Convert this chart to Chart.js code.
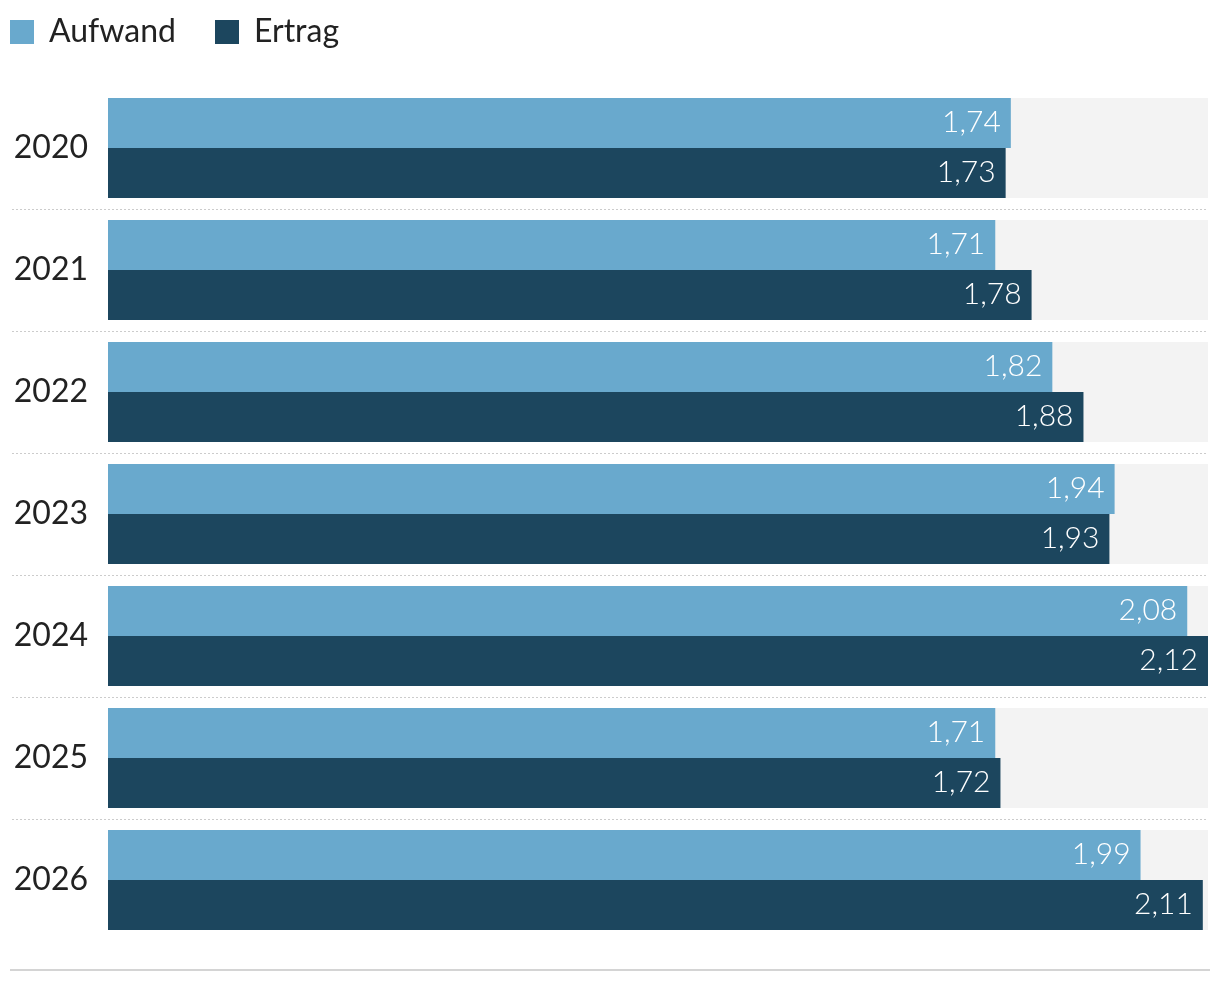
<!DOCTYPE html>
<html lang="de">
<head>
<meta charset="utf-8">
<title>Aufwand und Ertrag</title>
<script src="https://cdn.jsdelivr.net/npm/chart.js@4.4.1/dist/chart.umd.min.js"></script>
<style>
  html, body { margin: 0; padding: 0; background: #fff; }
  .wrap { position: relative; width: 1220px; height: 982px; color: #222; }
  .legend { position: absolute; top: 20px; left: 10px; display: flex; font-family: Lato, sans-serif; font-size: 32px; line-height: 24px; }
  .legend span.item { display: flex; margin-right: 39px; }
  .legend span.item b { font-weight: 400; position: relative; top: -2px; }
  .legend i { display: inline-block; width: 24px; height: 24px; margin-right: 15px; }
  canvas { position: absolute; left: 0; top: 0; }
</style>
</head>
<body>
<div class="wrap">
  <canvas id="chart" width="1220" height="982"></canvas>
  <div class="legend" id="legend"></div>
</div>
<script>
const years = ['2020', '2021', '2022', '2023', '2024', '2025', '2026'];
const aufwand = [1.74, 1.71, 1.82, 1.94, 2.08, 1.71, 1.99];
const ertrag = [1.73, 1.78, 1.88, 1.93, 2.12, 1.72, 2.11];
const xMax = 2.12;

const colors = { aufwand: '#69a9cd', ertrag: '#1c465e' };

// grey track behind each group + dotted lines between the groups
const backdrop = {
  id: 'backdrop',
  beforeDatasetsDraw(chart) {
    const { ctx, scales: { x, y } } = chart;
    const first = chart.getDatasetMeta(0).data;
    const second = chart.getDatasetMeta(1).data;
    const left = x.getPixelForValue(0);
    const right = x.getPixelForValue(xMax);

    ctx.save();
    ctx.fillStyle = '#f3f3f3';
    first.forEach((bar, i) => {
      const top = bar.y - bar.height / 2;
      const bottom = second[i].y + second[i].height / 2;
      ctx.fillRect(left, top, right - left, bottom - top);
    });

    ctx.strokeStyle = '#cccccc';
    ctx.lineWidth = 1;
    ctx.setLineDash([2, 2]);
    for (let i = 0; i < years.length - 1; i++) {
      const py = Math.round((y.getPixelForValue(i) + y.getPixelForValue(i + 1)) / 2) + 0.5;
      ctx.beginPath();
      ctx.moveTo(12, py);
      ctx.lineTo(right, py);
      ctx.stroke();
    }
    ctx.restore();
  },
  afterDraw(chart) {
    const { ctx } = chart;
    ctx.save();
    ctx.fillStyle = '#d4d4d4';
    ctx.fillRect(10, 969, 1200, 2);
    ctx.restore();
  }
};

// value labels inside the bar ends
const valueLabels = {
  id: 'valueLabels',
  afterDatasetsDraw(chart) {
    const { ctx } = chart;
    ctx.save();
    ctx.fillStyle = '#ffffff';
    ctx.font = '300 30px Lato, sans-serif';
    ctx.textAlign = 'right';
    ctx.textBaseline = 'middle';
    chart.data.datasets.forEach((ds, di) => {
      chart.getDatasetMeta(di).data.forEach((bar, i) => {
        const txt = ds.data[i].toFixed(2).replace('.', ',');
        ctx.fillText(txt, bar.x - 10, bar.y - 1);
      });
    });
    ctx.restore();
  }
};

const chart = new Chart(document.getElementById('chart'), {
  type: 'bar',
  data: {
    labels: years,
    datasets: [
      { label: 'Aufwand', data: aufwand, backgroundColor: colors.aufwand },
      { label: 'Ertrag', data: ertrag, backgroundColor: colors.ertrag }
    ]
  },
  options: {
    indexAxis: 'y',
    responsive: false,
    animation: false,
    devicePixelRatio: 1,
    categoryPercentage: 100 / 122,
    barPercentage: 1,
    layout: { padding: { top: 87, right: 12, bottom: 41, left: 0 } },
    scales: {
      x: { display: false, min: 0, max: xMax },
      y: {
        afterFit(scale) { scale.width = 108; },
        grid: { display: false, drawTicks: false },
        border: { display: false },
        ticks: { padding: 20, color: '#222', font: { family: 'Lato', size: 32 } }
      }
    },
    plugins: {
      legend: { display: false },
      tooltip: { enabled: false }
    }
  },
  plugins: [backdrop, valueLabels]
});

// html legend
const legend = document.getElementById('legend');
chart.data.datasets.forEach(ds => {
  const item = document.createElement('span');
  item.className = 'item';
  item.innerHTML = '<i style="background:' + ds.backgroundColor + '"></i><b>' + ds.label + '</b>';
  legend.appendChild(item);
});
</script>
</body>
</html>
